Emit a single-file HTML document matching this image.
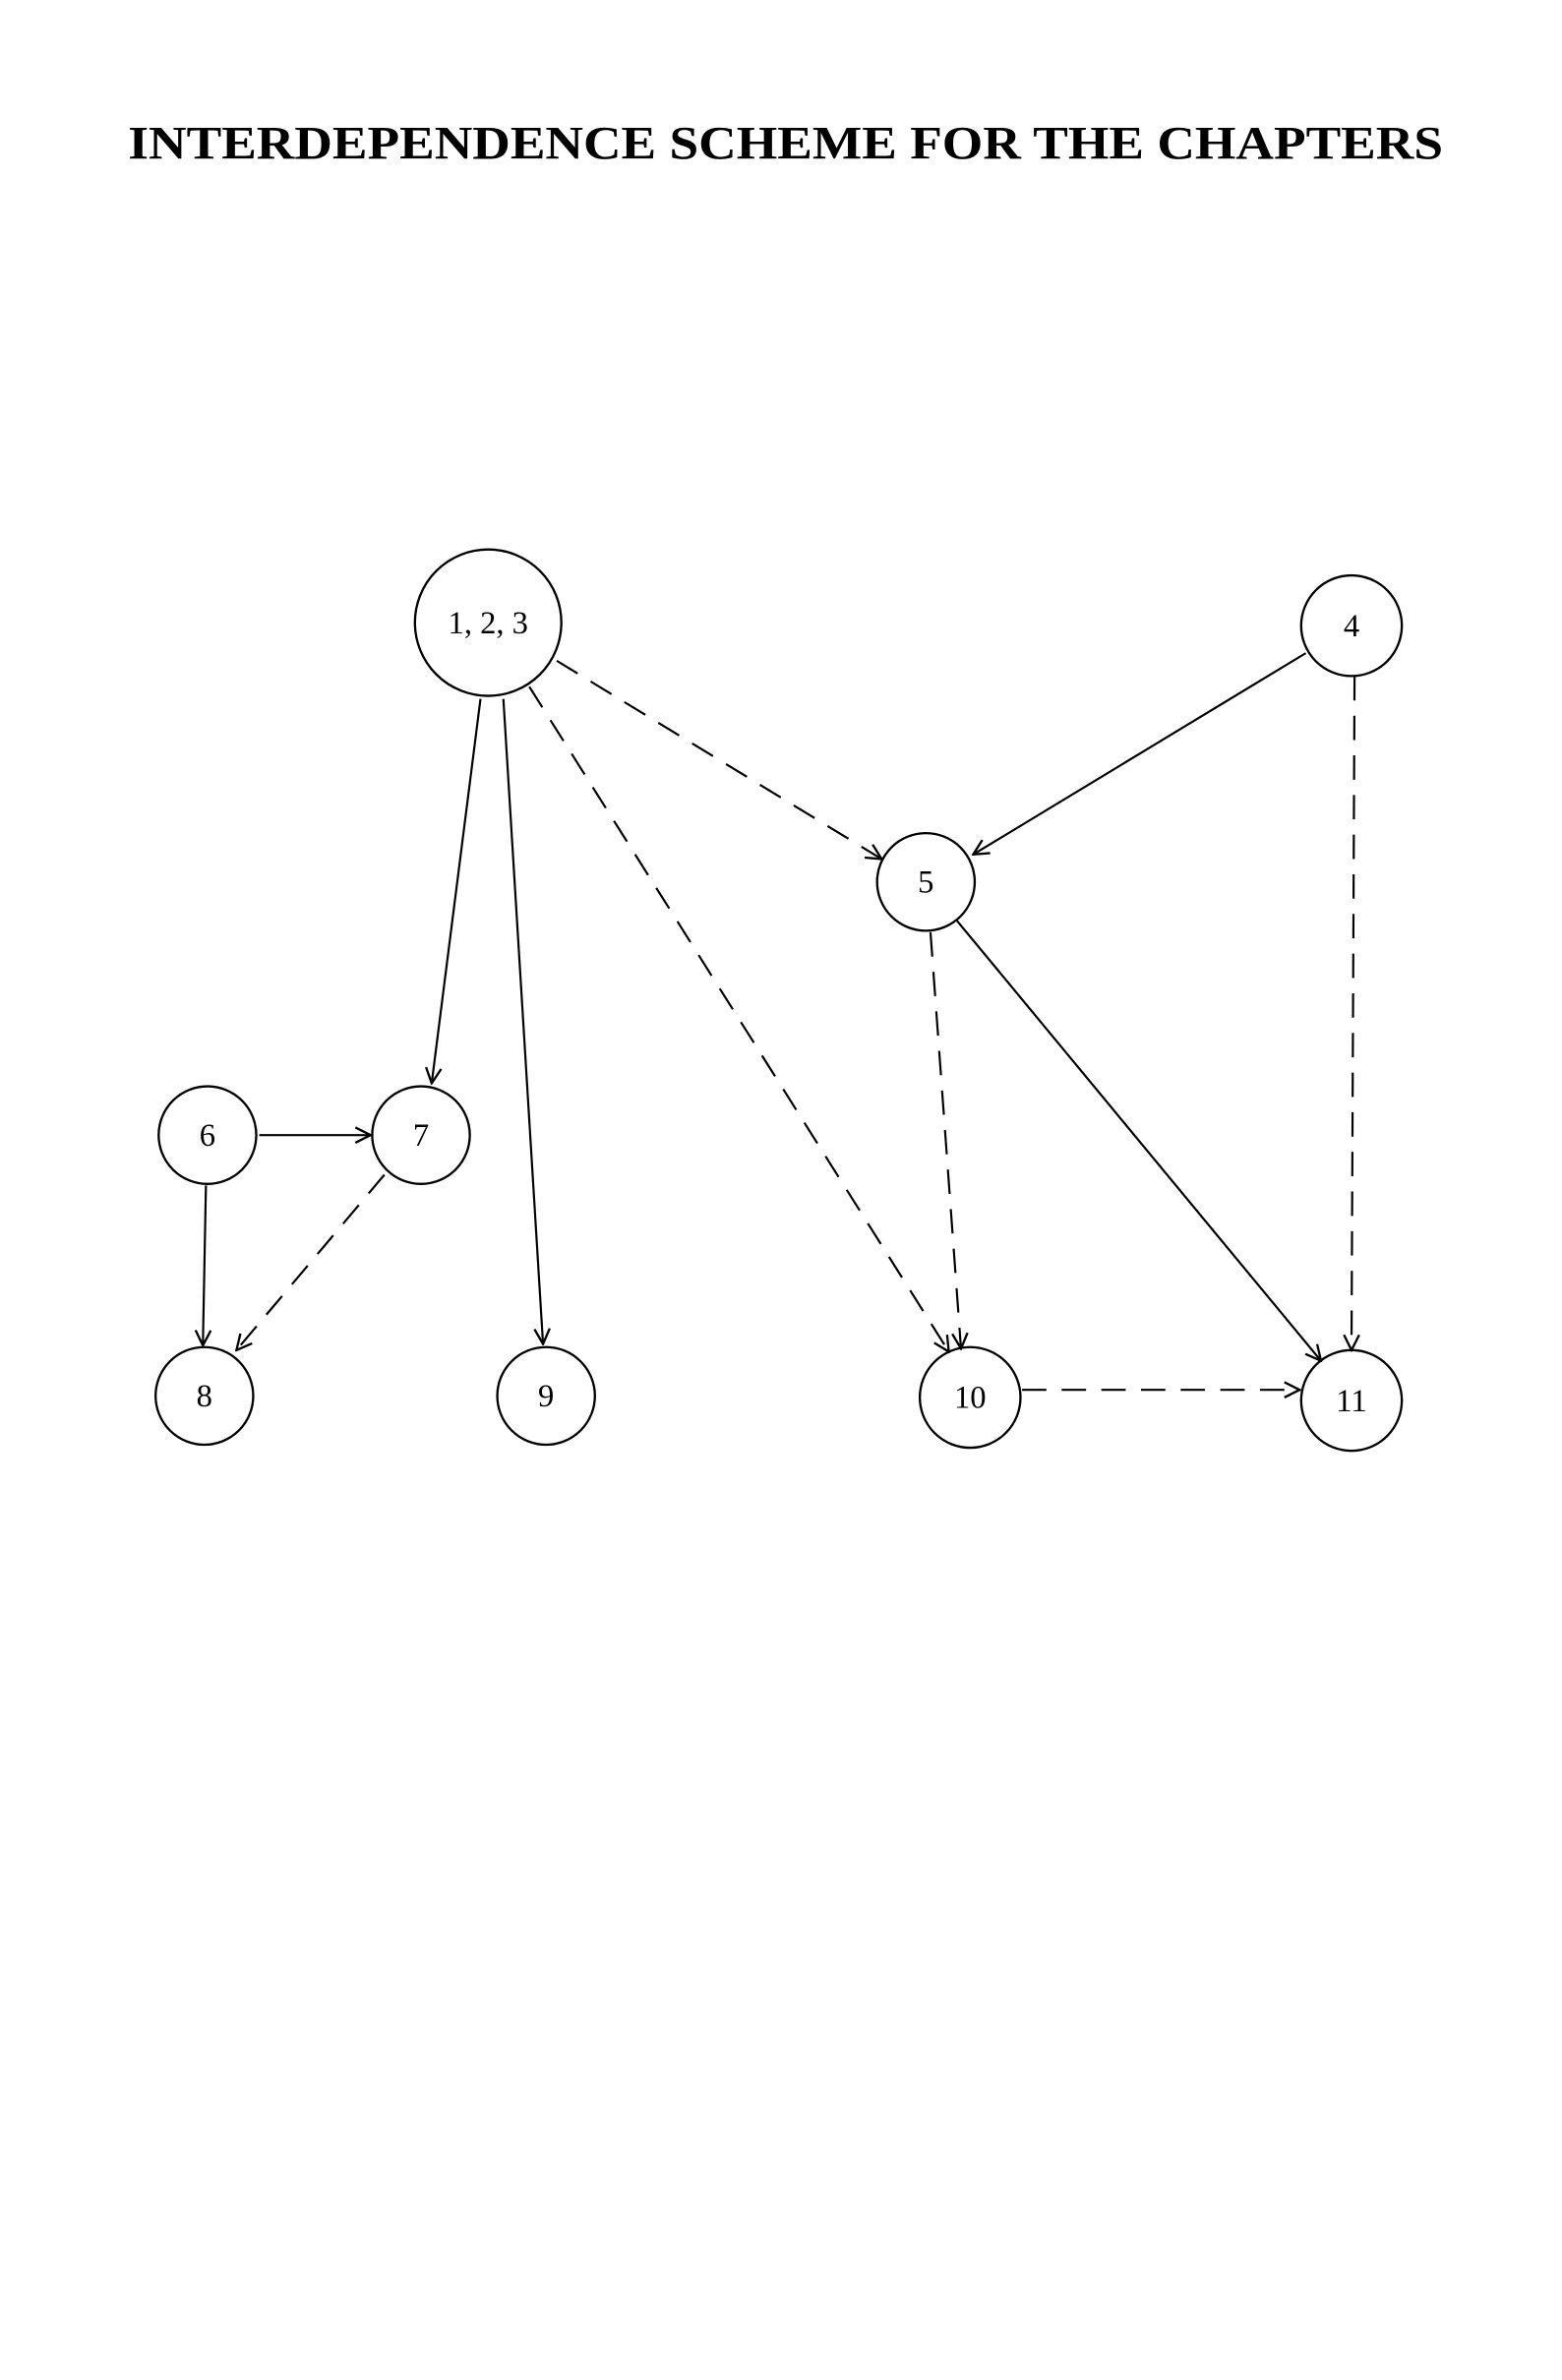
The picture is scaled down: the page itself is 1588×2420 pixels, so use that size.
<!DOCTYPE html>
<html><head><meta charset="utf-8"><style>
html,body{margin:0;padding:0;background:#fff;}
svg{display:block;}
</style></head><body>
<svg width="1588" height="2420" viewBox="0 0 1024 1560" xmlns="http://www.w3.org/2000/svg">
<defs>
<marker id="a" viewBox="0 0 12 12" refX="11" refY="6" markerWidth="12" markerHeight="12" markerUnits="userSpaceOnUse" orient="auto">
<path d="M1,1 L11,6 L1,11" fill="none" stroke="#000" stroke-width="1.5"/>
</marker>
</defs>
<text x="515" y="104" text-anchor="middle" font-family="Liberation Serif, serif" font-weight="bold" font-size="31" textLength="862" lengthAdjust="spacingAndGlyphs">INTERDEPENDENCE SCHEME FOR THE CHAPTERS</text>
<g fill="none" stroke="#000" stroke-width="1.5">
<circle cx="320" cy="408" r="48"/>
<circle cx="886" cy="410" r="33"/>
<circle cx="607" cy="578" r="32"/>
<circle cx="136" cy="744" r="32"/>
<circle cx="276" cy="744" r="32"/>
<circle cx="134" cy="915" r="32"/>
<circle cx="358" cy="915" r="32"/>
<circle cx="636" cy="916" r="33"/>
<circle cx="886" cy="918" r="33"/>
</g>
<g stroke="#000" stroke-width="1.4" fill="none" marker-end="url(#a)">
<line x1="315" y1="458" x2="283" y2="710"/>
<line x1="330" y1="458" x2="356" y2="881"/>
<line x1="856" y1="428" x2="638" y2="560"/>
<line x1="627" y1="603" x2="866" y2="892"/>
<line x1="170" y1="744" x2="243" y2="744"/>
<line x1="135" y1="777" x2="133" y2="882"/>
</g>
<g stroke="#000" stroke-width="1.4" fill="none" stroke-dasharray="16,10" marker-end="url(#a)">
<line x1="365" y1="433" x2="578" y2="563"/>
<line x1="347" y1="450" x2="622" y2="886"/>
<line x1="888" y1="443" x2="886" y2="885"/>
<line x1="610" y1="611" x2="630" y2="884"/>
<line x1="252" y1="770" x2="155" y2="885"/>
<line x1="670" y1="911" x2="852" y2="911"/>
</g>
<g font-family="Liberation Serif, serif" font-size="21" text-anchor="middle">
<text x="320" y="415">1, 2, 3</text>
<text x="886" y="417">4</text>
<text x="607" y="585">5</text>
<text x="136" y="751">6</text>
<text x="276" y="751">7</text>
<text x="134" y="922">8</text>
<text x="358" y="922">9</text>
<text x="636" y="923">10</text>
<text x="886" y="925">11</text>
</g>
</svg>
</body></html>
